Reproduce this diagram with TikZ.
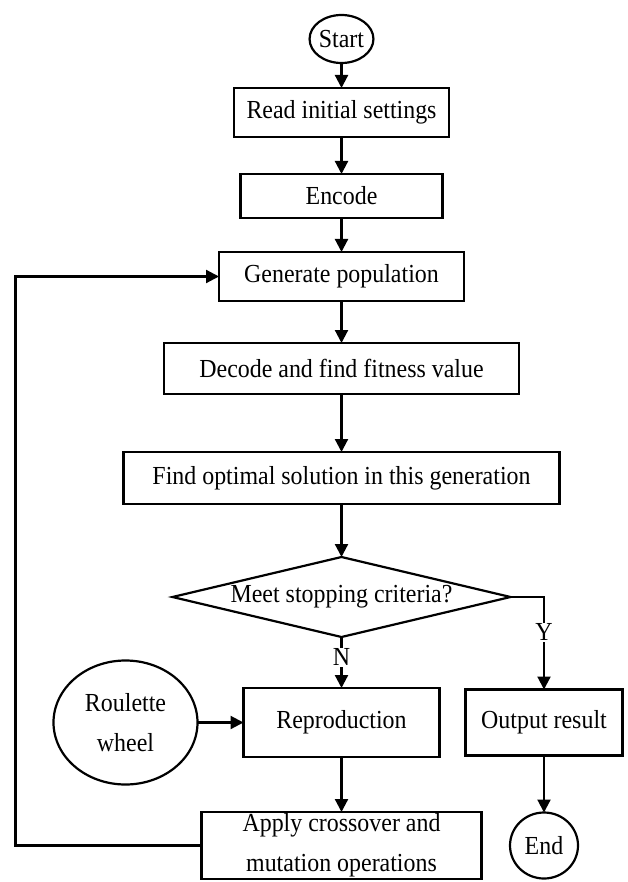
\documentclass[tikz,border=0pt]{standalone}
\usepackage{fontspec}
\setmainfont[FakeStretch=0.92]{Liberation Serif}
\usepackage{tikz}
\usetikzlibrary{positioning, arrows.meta, shapes.geometric}

\begin{document}
\begin{tikzpicture}[
    roundnode/.style={ellipse, draw=black, line width=2.2pt, inner sep=0pt, outer sep=0pt, align=center},
    squarenode/.style={rectangle, draw=black, line width=2.2pt, inner sep=0pt, outer sep=0pt, align=center},
    decisionnode/.style={diamond, aspect=4.2, draw=black, line width=2.2pt, inner sep=0pt, outer sep=0pt, minimum width=338pt, minimum height=80pt},
    flowarrow/.style={line width=2.2pt, -{Triangle[length=13pt, width=13pt]}},
    branchlabel/.style={fill=white, inner sep=1pt},
    font=\fontsize{26pt}{40pt}\selectfont
]
\useasboundingbox (0,0) rectangle (628pt,-882pt);

% main column
\node[roundnode, minimum width=62pt, minimum height=48pt](start) at (341.5pt,-39pt){Start};
\node[squarenode, minimum width=215pt, minimum height=49pt](read)[below = 25pt of start]{Read initial settings};
\node[squarenode, minimum width=202pt, minimum height=44pt](encode)[below = 37pt of read]{Encode};
\node[squarenode, minimum width=245pt, minimum height=49pt](generate)[below = 34pt of encode]{Generate population};
\node[squarenode, minimum width=355pt, minimum height=51pt](decode)[below = 42pt of generate]{Decode and find fitness value};
\node[squarenode, minimum width=436pt, minimum height=52pt](optimal)[below = 58pt of decode]{Find optimal solution in this generation};
\node[decisionnode](criteria)[below = 53pt of optimal]{Meet stopping criteria?};
\node[squarenode, minimum width=196pt, minimum height=69pt](repro)[below = 51pt of criteria]{Reproduction};
\node[squarenode, minimum width=280pt, minimum height=67pt](apply)[below = 55pt of repro]{Apply crossover and\\mutation operations};

% side nodes
\node[roundnode, minimum width=144pt, minimum height=124pt](roulette)[left = 46pt of repro]{Roulette\\wheel};
\node[squarenode, minimum width=157pt, minimum height=66pt](output)[right = 26pt of repro]{Output result};
\node[roundnode, minimum width=68pt, minimum height=66pt](finish)[below = 57pt of output]{End};

% connectors
\draw[flowarrow] (start) -- (read);
\draw[flowarrow] (read) -- (encode);
\draw[flowarrow] (encode) -- (generate);
\draw[flowarrow] (generate) -- (decode);
\draw[flowarrow] (decode) -- (optimal);
\draw[flowarrow] (optimal) -- (criteria);
\draw[flowarrow] (criteria.south) -- node[branchlabel, pos=0.4]{N} (repro.north);
\draw[flowarrow] (criteria.east) -| node[branchlabel, pos=0.69]{Y} (output.north);
\draw[flowarrow] (roulette) -- (repro);
\draw[flowarrow] (repro) -- (apply);
\draw[flowarrow] (output) -- (finish);
\draw[flowarrow] (apply.west) -- ++(-186pt,0) |- (generate.west);
\end{tikzpicture}
\end{document}
